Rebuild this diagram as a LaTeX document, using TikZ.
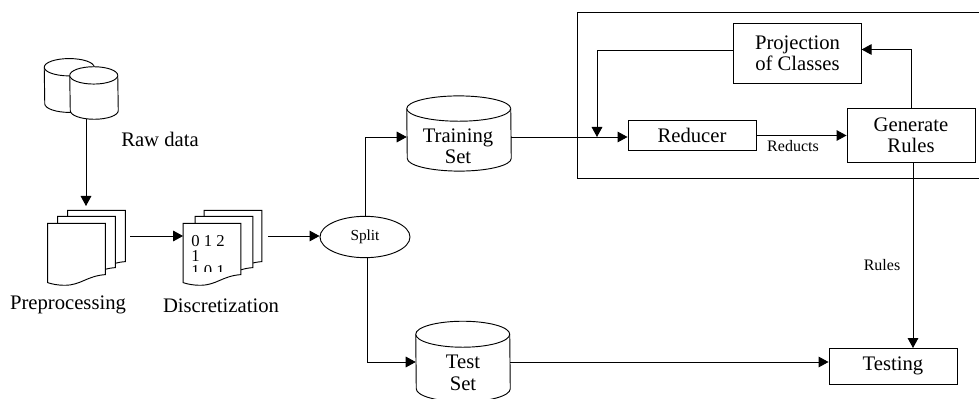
\documentclass[tikz,border=0pt]{standalone}
\usepackage{fontspec}
\setmainfont{Liberation Serif}
\usepackage{tikz}
\usetikzlibrary{arrows.meta,calc,
                shapes.geometric,positioning}

\newcommand{\drawsheet}[1]{%
  \draw[sheetline] (#1.north west) -- (#1.north east) -- (#1.south east)
    .. controls +(-14pt,-1pt) and +(12pt,0pt) .. ($(#1.south west)+(13pt,-8pt)$)
    .. controls +(-6pt,0pt) and +(3pt,-1pt) .. ($(#1.south west)+(0pt,-6pt)$) -- cycle;}
\newcommand{\drawbarrel}[3]{%
  \draw[sheetline] ($(#1.north west)+(0pt,-#3)$) arc[start angle = 180, end angle = 0, x radius = #2, y radius = #3]
    -- ($(#1.south east)+(0pt,#3)$) arc[start angle = 360, end angle = 180, x radius = #2, y radius = #3] -- cycle;
  \draw[sheetline] ($(#1.north west)+(0pt,-#3)$) arc[start angle = 180, end angle = 360, x radius = #2, y radius = #3];}

\begin{document}
\begin{tikzpicture}[x=0.75pt,y=-0.75pt]
  \tikzset{box/.style = {shape = rectangle, draw = black, line width = 0.7pt, fill = white, font = \fontsize{15.5}{16}\selectfont, align = center, inner sep = 0pt}}
  \tikzset{barrel/.style = {shape = rectangle, inner sep = 0pt}}
  \tikzset{sheet/.style = {shape = rectangle, minimum width = 43pt, minimum height = 38pt, inner sep = 0pt}}
  \tikzset{sheetline/.style = {draw = black, line width = 0.7pt, fill = white}}
  \tikzset{caption/.style = {font = \fontsize{15.5}{16}\selectfont, align = center, inner sep = 0pt}}
  \tikzset{small/.style = {font = \fontsize{12}{14}\selectfont, inner sep = 0pt}}
  \tikzset{link/.style = {draw = black, line width = 0.7pt, -{Triangle[length = 7.5pt, width = 8pt]}}}
  \useasboundingbox (0,0) rectangle (979,399);

  % outer frame
  \node[box, fill = none, minimum width = 303pt, minimum height = 124.5pt] (Frame) at (779,95) {};

  \node[barrel, minimum width = 37.5pt, minimum height = 40pt] (RawBack) at (69.5,85.5) {};
  \node[barrel, minimum width = 36pt, minimum height = 39pt] (RawFront) at (94,93) {};
  \drawbarrel{RawBack}{18.75pt}{6.5pt} \drawbarrel{RawFront}{18pt}{6.5pt}
  \node[caption, anchor = west] (RawLabel) at (121,139) {Raw data};

  \node[sheet] (PrepC) at (96.5,236) {};
  \node[sheet] (PrepB) at ($(PrepC)+(-10,6)$) {};
  \node[sheet] (PrepA) at ($(PrepB)+(-10,7)$) {};
  \drawsheet{PrepC} \drawsheet{PrepB} \drawsheet{PrepA}
  \node[caption] (PrepLabel) at (68,305) {Preprocessing};

  \node[sheet] (DiscC) at (233,236) {};
  \node[sheet] (DiscB) at ($(DiscC)+(-9,6)$) {};
  \node[sheet] (DiscA) at ($(DiscB)+(-12,7)$) {};
  \drawsheet{DiscC} \drawsheet{DiscB} \drawsheet{DiscA}
  \begin{scope}
    \clip (DiscA.north west) rectangle ($(DiscA.south east)+(0pt,2.25pt)$);
    \node[small, anchor = north west, align = left, font = \fontsize{12.5}{11.25}\selectfont] (DiscText) at ($(DiscA.north west)+(6pt,-9pt)$) {0 1 2\\1\\1 0 1};
  \end{scope}
  \node[caption] (DiscLabel) at (221,306) {Discretization};

  \node[shape = ellipse, draw = black, line width = 0.7pt, minimum width = 67.5pt, minimum height = 31pt, inner sep = 0pt, font = \fontsize{11.5}{14}\selectfont] (Split) at (365,237) {Split};

  \node[barrel, minimum width = 78pt, minimum height = 56pt] (Training) at (459,133.5) {};
  \node[barrel, minimum width = 70.5pt, minimum height = 60pt] (TestSet) at (463,361.5) {};
  \drawbarrel{Training}{39pt}{9.5pt} \drawbarrel{TestSet}{35.25pt}{9.75pt}
  \node[caption] (TrainingLabel) at (458,146) {Training\\Set};
  \node[caption] (TestLabel) at (463,373) {Test\\Set};

  \node[box, minimum width = 96pt, minimum height = 22pt] (Reducer) at (692,135.5) {Reducer};
  \node[box, minimum width = 95.5pt, minimum height = 44.5pt] (Projection) at (797.5,53.5) {Projection\\of Classes};
  \node[box, minimum width = 96pt, minimum height = 40pt] (Generate) at (911,135.5) {Generate\\Rules};
  \node[box, minimum width = 96pt, minimum height = 27pt] (Testing) at (893,366) {Testing};
  \node[small, anchor = north] (Reducts) at (793,140) {Reducts};
  \node[small] (RulesLabel) at (882,265) {Rules};

  \coordinate (RawOut) at (86,119);
  \coordinate (PrepIn) at (86,206);
  \coordinate (PrepOut) at (130,236);
  \coordinate (DiscOut) at (268,236);
  \coordinate (Merge) at (597,137);
  \coordinate (RulesIn) at (913,348);
  \coordinate (TestIn) at (510,362);

  \draw[link] (RawOut) -- (PrepIn);
  \draw[link] (PrepOut) -- (DiscA.west |- PrepOut);
  \draw[link] (DiscOut) -- (Split.west |- DiscOut);
  \draw[link] (Split.north) |- (Training.west |- Merge);
  \draw[link] ([xshift = 2pt]Split.south) |- (TestSet.west |- TestIn);
  \draw[link] (Training.east |- Merge) -- (Reducer.west |- Merge);
  \draw[link] ([yshift = 2.5pt]Projection.west) -| (Merge);
  \draw[link] (Reducer.east) -- (Generate.west);
  \draw[link] (Generate.north) |- ([yshift = 3pt]Projection.east);
  \draw[link] (Generate.south -| RulesIn) -- (RulesIn);
  \draw[link] (TestIn) -- (Testing.west |- TestIn);
\end{tikzpicture}
\end{document}
